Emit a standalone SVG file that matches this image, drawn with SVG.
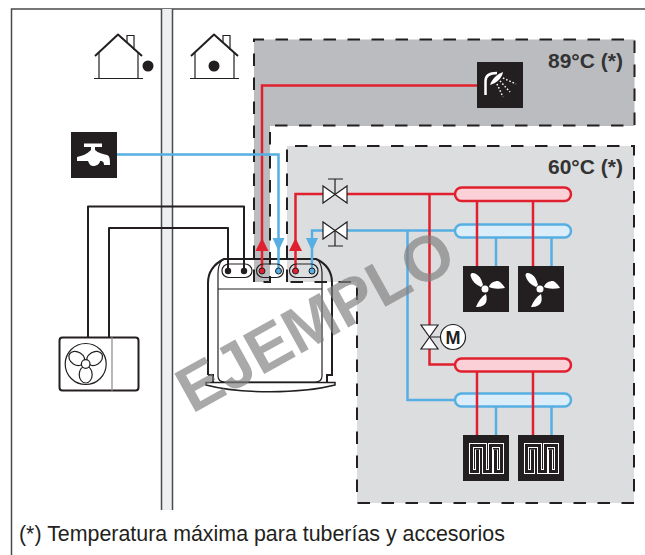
<svg xmlns="http://www.w3.org/2000/svg" width="645" height="555" viewBox="0 0 645 555">
<style>
.k{fill:none;stroke:#231f20;stroke-width:2;stroke-linejoin:round}
.t{fill:none;stroke:#231f20;stroke-width:1.2}
.d{fill:none;stroke:#231f20;stroke-width:2;stroke-dasharray:12.500 11.500}
.r{fill:none;stroke:#e0202e;stroke-width:2.500}
.b{fill:none;stroke:#56aee2;stroke-width:2.500}
.hr{fill:#fbd0d6;stroke:#e0202e;stroke-width:2.500}
.hb{fill:#dcedfa;stroke:#56aee2;stroke-width:2.500}
.v{fill:#fff;stroke:#231f20;stroke-width:1.200}
.w{fill:#fff}
.pill{fill:none;stroke:#231f20;stroke-width:1.200}
.lbl{font-family:"Liberation Sans",Arial,sans-serif}
.zt{font-size:21px;font-weight:700;fill:#333}
.pet{fill:#fff;stroke:#231f20;stroke-width:1.200}
</style>
<defs>
<g id="fan"><rect width="46" height="46" fill="#231f20"/><circle cx="22" cy="23" r="3.500" class="w"/><path class="w" d="M18 21C13 19 8 14 7.500 9C8 6 11 7 13 8C17 10 19 15 20 19Z"/><path class="w" d="M26 21C27 17 31 15 35 15C38 16 41 20 42 22C36 23 30 23 26 21Z"/><path class="w" d="M23 28C24 32 24 36 22 38C19 41 15 41 13 41C15 36 18 31 23 28Z"/></g>
<g id="ufh"><rect width="46" height="46" fill="#231f20"/><path fill="none" stroke="#fff" stroke-width="5" transform="translate(.5 .5)" d="M14 14V36H8V10H21V36H27V10H38V36H32V14"/><path fill="none" stroke="#231f20" stroke-width="3" transform="translate(.5 .5)" d="M14 14V36H8V10H21V36H27V10H38V36H32V14"/></g>
</defs>
<g id="frame"><path d="M11.500 555V9H645" fill="none" stroke="#4a4a4a" stroke-width="1.500"/><rect x="162" y="9" width="10" height="501" fill="#eeeff1"/><path d="M161.500 9V510M172.500 9V510" stroke="#4a4a4a" stroke-width="1.500" fill="none"/></g>
<g id="zone-89"><path d="M254 39.500H634.500V126H270V282H254Z" fill="#bbbcbf"/><path d="M254 282V39.500H634.500V125.500H270V282H254" class="d"/><text class="lbl zt" x="548" y="67.500">89°C (*)</text></g>
<g id="zone-60"><path d="M287 146H634V503H357V282H287Z" fill="#dcddde"/><path d="M287 282V146H634V503H357V282H287" class="d"/><text class="lbl zt" x="548" y="174">60°C (*)</text></g>
<g id="indoor-unit">
<path d="M208 375V283C208 270 216 263 224 259H316C325 263 332 270 332 283V375H327V382M208 375H213V382" fill="none" stroke="#231f20" stroke-width="2"/>
<path d="M222 260C219 264 218 268 218 273V376C218 380 221 382 225 382H315C319 382 322 380 322 376V273C322 268 321 264 318 260" class="t"/>
<path d="M218 289H322" class="t"/>
<path d="M206 382.500H335V385C300 394 240 394 206 385Z" fill="#fff" stroke="#231f20" stroke-width="1.500"/>
</g>
<g id="headers">
<rect x="455" y="187.500" width="116" height="13.500" rx="6.700" class="hr"/>
<rect x="455" y="224.500" width="116" height="13" rx="6.500" class="hb"/>
<rect x="455" y="358.500" width="116" height="13" rx="6.500" class="hr"/>
<rect x="455" y="393.500" width="116" height="13" rx="6.500" class="hb"/>
</g>
<g id="connectors">
<path class="k" d="M88 337V206.500H244V271"/><path class="k" d="M109 337V228H228V271"/>
<path class="r" d="M262 271V85.500H480"/><path class="b" d="M117 154.500H278.500V271"/>
<path class="r" d="M295.500 271V194H325M345 194H455"/><path class="b" d="M312 271V230.500H325M345 230.500H455"/>
<path class="r" d="M429.500 194V326M429.500 348V364.500H455"/><path class="b" d="M407.500 230.500V400H455"/>
<path class="b" d="M496 238V266M551.500 238V266"/><path class="r" d="M477 201V266M533 201V266"/>
<path class="b" d="M496 407V435M551.500 407V435"/><path class="r" d="M477 372V435M533 372V435"/>
<path d="M262 238L268.500 251H255.500Z" fill="#e0202e"/><path d="M295.500 238L302 251H289Z" fill="#e0202e"/>
<path d="M272.500 238H284.500L278.500 251Z" fill="#56aee2"/><path d="M306 238H318L312 251Z" fill="#56aee2"/>
</g>
<g id="ports">
<rect x="222" y="264" width="30" height="13.500" rx="6.700" class="pill"/>
<rect x="256.500" y="264" width="27" height="13.500" rx="6.700" class="pill"/>
<rect x="289.500" y="264" width="28.500" height="13.500" rx="6.700" class="pill"/>
<circle cx="228" cy="271" r="3.200" fill="#231f20"/><circle cx="244" cy="271" r="3.200" fill="#231f20"/>
<circle cx="262" cy="271" r="3" fill="#e0202e" stroke="#231f20"/><circle cx="278.500" cy="271" r="3" fill="#56aee2" stroke="#231f20"/>
<circle cx="295.500" cy="271" r="3" fill="#e0202e" stroke="#231f20"/><circle cx="312" cy="271" r="3" fill="#56aee2" stroke="#231f20"/>
</g>
<g id="house-out"><path class="k" d="M95 56L118 34.500L142 56"/><path class="t" d="M99 52V78.500M138 52V78.500M94 78.500H143M127 43V35.500H134V50"/><circle cx="148" cy="66" r="5.500" fill="#231f20"/></g>
<g id="house-in"><path class="k" d="M191 56L214 34.500L238 56"/><path class="t" d="M195 52V78.500M234 52V78.500M190 78.500H239M223 43V35.500H230V50"/><circle cx="214" cy="66" r="5.500" fill="#231f20"/></g>
<g id="tap"><rect x="71" y="132" width="46" height="46" fill="#231f20"/><path class="w" d="M84 143.500H102V147H95V150C98 153 103 154 107 155C110 156 110 160 110 165H104C104 162 103 161 100 161C100 164 96 166 93 166C90 166 89 163 88 161H77V157C82 156 87 154 91 150V147H84Z"/></g>
<g id="shower"><rect x="477" y="62" width="46" height="46" fill="#231f20"/><path fill="none" stroke="#fff" stroke-width="2.500" d="M485.500 95V81C485.500 75 490 73 497 73"/><path class="w" d="M490 85C492 79 497 74 503 72C502 78 497 83 490 85Z"/><path fill="none" stroke="#fff" stroke-width="1.500" stroke-dasharray="1.500 2" d="M503 78L516 84M500 81L510 92M497 84L503 97"/></g>
<g id="outdoor-unit"><rect x="59.500" y="337.500" width="79" height="53" rx="3" class="k" fill="#fff"/><path d="M112 337V391" stroke="#888" stroke-width="1.200"/><circle cx="85.700" cy="364" r="20.500" class="t"/>
<g transform="translate(85.700 364)"><ellipse class="pet" cx="0" cy="-10.500" rx="6.500" ry="8.500" transform="rotate(-58)"/><ellipse class="pet" cx="0" cy="-10.500" rx="6.500" ry="8.500" transform="rotate(58)"/><ellipse class="pet" cx="0" cy="-10.500" rx="6.500" ry="8.500" transform="rotate(180)"/><circle r="4.300" class="pet"/></g></g>
<g id="valve-top"><path class="v" d="M323 186V203L335 194.500ZM347 186V203L335 194.500Z"/><path d="M335 194V179M328 179H343" stroke="#231f20" stroke-width="1.200"/></g>
<g id="valve-bottom"><path class="v" d="M323 222V239L335 230.500ZM347 222V239L335 230.500Z"/><path d="M335 230V246M328 246H343" stroke="#231f20" stroke-width="1.200"/></g>
<g id="valve-motor"><path class="v" d="M421 325H438L429.500 337ZM421 349H438L429.500 337Z"/><path d="M429.500 337H441" stroke="#231f20"/><circle cx="453" cy="337" r="12.500" class="v"/><text class="lbl" x="453" y="343.500" text-anchor="middle" font-size="18" font-weight="700" fill="#231f20">M</text></g>
<g id="fan-1"><use href="#fan" x="463" y="266"/></g>
<g id="fan-2"><use href="#fan" x="518" y="266"/></g>
<g id="ufh-1"><use href="#ufh" x="463" y="435"/></g>
<g id="ufh-2"><use href="#ufh" x="518" y="435"/></g>
<g id="watermark"><text class="lbl" transform="translate(192 414) rotate(-29)" font-size="64" font-weight="700" fill="#808080" fill-opacity=".68" stroke="#808080" stroke-opacity=".68" stroke-width="0">EJEMPLO</text></g>
<g id="note"><text class="lbl" x="19" y="541" font-size="21.400" fill="#231f20">(*) Temperatura máxima para tuberías y accesorios</text></g>
</svg>
